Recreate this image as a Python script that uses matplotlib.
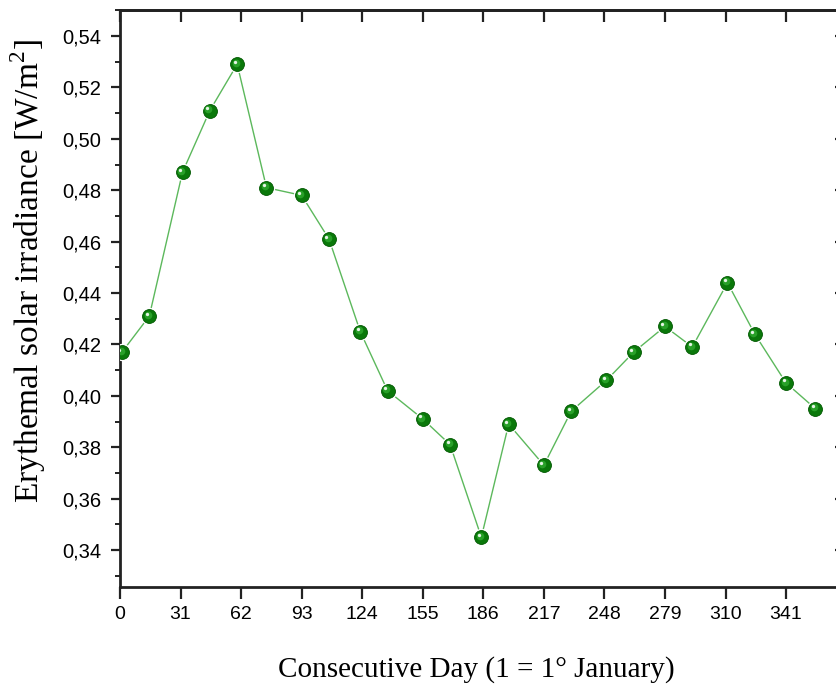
import matplotlib
matplotlib.use("Agg")
import matplotlib.pyplot as plt
from matplotlib.ticker import FixedLocator, MultipleLocator, FuncFormatter
from matplotlib.transforms import offset_copy

# ---- data ----
days = [1, 15, 32, 46, 60, 75, 93, 107, 123, 137, 155, 169,
        185, 199, 217, 231, 249, 263, 279, 293, 311, 325, 341, 356]
irradiance = [0.417, 0.431, 0.487, 0.511, 0.529, 0.481, 0.478, 0.461,
              0.425, 0.402, 0.391, 0.381, 0.345, 0.389, 0.373, 0.394,
              0.406, 0.417, 0.427, 0.419, 0.444, 0.424, 0.405, 0.395]
x_ticks = [0, 31, 62, 93, 124, 155, 186, 217, 248, 279, 310, 341]
y_ticks = [0.34, 0.36, 0.38, 0.40, 0.42, 0.44, 0.46, 0.48, 0.50, 0.52, 0.54]

x_label = "Consecutive Day (1 = 1° January)"
y_label = "Erythemal solar irradiance [W/m$^\\mathrm{2}$]"

plt.rcParams["mathtext.fontset"] = "custom"
plt.rcParams["mathtext.rm"] = "Liberation Serif"

W, H = 837, 686
fig = plt.figure(figsize=(W / 100, H / 100), dpi=100)
left_px, right_px, top_px, bot_px = 120, 847, 10.3, 587.3
ax = fig.add_axes([left_px / W, (H - bot_px) / H,
                   (right_px - left_px) / W, (bot_px - top_px) / H])

line_col = "#5cb85c"
ax.plot(days, irradiance, "-", color=line_col, lw=1.0, zorder=2)
ax.plot(days, irradiance, "o", ms=12.5, color="white", mec="none", zorder=3)
ax.plot(days, irradiance, "o", ms=10, mfc="#0a780a", mec="#005800", mew=0.6, zorder=4)
tr1 = offset_copy(ax.transData, fig=fig, x=-1.0, y=1.0, units="points")
ax.plot(days, irradiance, "o", ms=5.5, color="#28a028", mec="none", transform=tr1, zorder=5)
tr2 = offset_copy(ax.transData, fig=fig, x=-1.8, y=1.8, units="points")
ax.plot(days, irradiance, "o", ms=2.4, color="#e6f4e6", mec="none", transform=tr2, zorder=6)

ax.set_xlim(0, 372.2)
ax.set_ylim(0.3255, 0.55)

spine_col = "#222222"
for s in ax.spines.values():
    s.set_linewidth(2.0)
    s.set_color(spine_col)

ax.xaxis.set_major_locator(FixedLocator(x_ticks))
ax.yaxis.set_major_locator(FixedLocator(y_ticks))
ax.yaxis.set_minor_locator(MultipleLocator(0.01))
ax.yaxis.set_major_formatter(FuncFormatter(lambda v, p: f"{v:.2f}".replace(".", ",")))

tick_font = dict(family="Liberation Sans", size=14)
ax.tick_params(axis="x", which="major", direction="out", length=8.6, width=1.6,
               color=spine_col, pad=5, labelsize=14)
ax.tick_params(axis="y", which="major", direction="out", length=6.5, width=1.6,
               color=spine_col, pad=7, labelsize=14.5)
ax.tick_params(axis="y", which="minor", direction="out", length=3.5, width=1.4,
               color=spine_col)
for lab in ax.get_xticklabels() + ax.get_yticklabels():
    lab.set_family("Liberation Sans")

# top and right axes with inward ticks
secx = ax.secondary_xaxis("top")
secx.xaxis.set_major_locator(FixedLocator(x_ticks))
secx.tick_params(direction="in", length=8.6, width=1.6, color=spine_col, labeltop=False)
secx.spines["top"].set_linewidth(2.0)
secx.spines["top"].set_color(spine_col)
secy = ax.secondary_yaxis("right")
secy.yaxis.set_major_locator(FixedLocator(y_ticks))
secy.yaxis.set_minor_locator(FixedLocator([]))
secy.tick_params(direction="in", length=8.6, width=1.6, color=spine_col, labelright=False)

fig.text(28 / W, 1 - 271.5 / H, y_label, rotation=90, ha="center", va="center",
         family="Liberation Serif", size=24)
fig.text(476 / W, 9 / H, x_label, ha="center", va="baseline",
         family="Liberation Serif", size=21)

fig.savefig("out.png", dpi=100)
